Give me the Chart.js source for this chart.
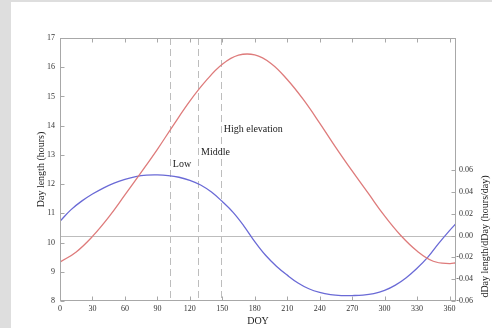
<!DOCTYPE html>
<html>
<head>
<meta charset="utf-8">
<script src="https://cdn.jsdelivr.net/npm/chart.js@4/dist/chart.umd.min.js"></script>
<style>
  html, body { margin: 0; padding: 0; background: #dedede; width: 492px; height: 328px; overflow: hidden; }
  #wrap { position: absolute; left: 11px; top: 2px; width: 481px; height: 326px; background: #ffffff; }
  canvas { display: block; }
</style>
</head>
<body>
<div id="wrap"><canvas id="c" width="481" height="326"></canvas></div>
<script>
// ---- data ----
const doyRed = [0,15,30,45,60,75,90,105,120,135,150,165,180,195,210,225,240,255,270,285,300,315,330,345,360,366];
const dayLength = [9.33,9.68,10.21,10.87,11.63,12.40,13.19,14.03,14.84,15.54,16.10,16.41,16.42,16.13,15.58,14.89,14.09,13.25,12.45,11.68,10.91,10.24,9.71,9.36,9.28,9.31];

const doyRate = [0,10,20,30,40,50,60,70,80,90,100,110,120,130,140,150,160,170,180,190,200,210,220,230,240,250,260,270,280,290,300,310,320,330,340,350,360,366];
const rate = [0.0131,0.0235,0.0315,0.0380,0.0435,0.0480,0.0515,0.0540,0.0553,0.0555,0.0549,0.0534,0.0506,0.0463,0.0398,0.0311,0.0212,0.0087,-0.0056,-0.0181,-0.0281,-0.0363,-0.0435,-0.0488,-0.0522,-0.0542,-0.0550,-0.0550,-0.0546,-0.0532,-0.0503,-0.0455,-0.0387,-0.0300,-0.0198,-0.0072,0.0045,0.0110];

const elevationDays = [102,128,149];
const elevationLabels = ['Low','Middle','High elevation'];
const labelHours = [12.69,13.09,13.88];

const doyTicks = [0,30,60,90,120,150,180,210,240,270,300,330,360];
const hourTicks = [8,9,10,11,12,13,14,15,16,17];
const rateTicks = [-0.06,-0.04,-0.02,0,0.02,0.04,0.06];

const xTitle = 'DOY';
const yTitle = 'Day length (hours)';
const y1Title = 'dDay length/dDay (hours/day)';

// ---- chart ----
const SERIF = '"Liberation Serif", "DejaVu Serif", serif';
Chart.defaults.font.family = SERIF;

function toXY(xs, ys) { return xs.map((v, i) => ({ x: v, y: ys[i] })); }

const decor = {
  id: 'decor',
  beforeDatasetsDraw(chart) {
    const { ctx, chartArea: a, scales: { x, y1 } } = chart;
    ctx.save();
    ctx.strokeStyle = '#bdbdbd';
    ctx.lineWidth = 1;
    const yz = Math.round(y1.getPixelForValue(0)) + 0.5;
    ctx.beginPath(); ctx.moveTo(a.left, yz); ctx.lineTo(a.right, yz); ctx.stroke();
    ctx.setLineDash([7, 4]);
    elevationDays.forEach(d => {
      const px = Math.round(x.getPixelForValue(d)) + 0.5;
      ctx.beginPath(); ctx.moveTo(px, a.top); ctx.lineTo(px, a.bottom); ctx.stroke();
    });
    ctx.restore();
  },
  afterDraw(chart) {
    const { ctx, chartArea: a, scales: { x, y, y1 } } = chart;
    ctx.save();
    ctx.strokeStyle = '#a8a8a8';
    ctx.lineWidth = 1;
    const L = Math.round(a.left) + 0.5, R = Math.round(a.right) - 0.5;
    const T = Math.round(a.top) + 0.5, B = Math.round(a.bottom) - 0.5;
    ctx.strokeRect(L, T, R - L, B - T);
    const tk = 4;
    ctx.beginPath();
    doyTicks.forEach(v => {
      const px = Math.round(x.getPixelForValue(v)) + 0.5;
      ctx.moveTo(px, B); ctx.lineTo(px, B - tk);
      ctx.moveTo(px, T); ctx.lineTo(px, T + tk);
    });
    hourTicks.forEach(v => {
      const py = Math.round(y.getPixelForValue(v)) + 0.5;
      ctx.moveTo(L, py); ctx.lineTo(L + tk, py);
    });
    rateTicks.forEach(v => {
      const py = Math.round(y1.getPixelForValue(v)) + 0.5;
      ctx.moveTo(R, py); ctx.lineTo(R - tk, py);
    });
    ctx.stroke();

    // right-axis tick labels (right aligned)
    ctx.fillStyle = '#333';
    ctx.font = '8px ' + SERIF;
    ctx.textBaseline = 'middle';
    ctx.textAlign = 'right';
    rateTicks.forEach(v => {
      ctx.fillText(v.toFixed(2), a.right + 17, y1.getPixelForValue(v));
    });

    // annotations
    ctx.fillStyle = '#222';
    ctx.font = '10px ' + SERIF;
    ctx.textAlign = 'left';
    elevationLabels.forEach((t, i) => {
      ctx.fillText(t, x.getPixelForValue(elevationDays[i]) + 2.5, y.getPixelForValue(labelHours[i]));
    });

    // axis titles
    ctx.textAlign = 'center';
    ctx.fillText(xTitle, (a.left + a.right) / 2, a.bottom + 20);
    ctx.save();
    ctx.translate(30, (a.top + a.bottom) / 2);
    ctx.rotate(-Math.PI / 2);
    ctx.fillText(yTitle, 0, 0);
    ctx.restore();
    ctx.save();
    ctx.translate(a.right + 29, y1.getPixelForValue(0) + 1);
    ctx.rotate(-Math.PI / 2);
    ctx.fillText(y1Title, 0, 0);
    ctx.restore();
    ctx.restore();
  }
};

new Chart(document.getElementById('c'), {
  type: 'line',
  data: {
    datasets: [
      { label: 'Day length', data: toXY(doyRed, dayLength), yAxisID: 'y',
        borderColor: '#de7b7b', borderWidth: 1.3, pointRadius: 0, tension: 0.4, fill: false },
      { label: 'dDay length/dDay', data: toXY(doyRate, rate), yAxisID: 'y1',
        borderColor: '#6a6ad6', borderWidth: 1.3, pointRadius: 0, tension: 0.4, fill: false }
    ]
  },
  options: {
    responsive: false,
    animation: false,
    events: [],
    layout: { padding: { top: 36, left: 0, right: 0, bottom: 0 } },
    plugins: { legend: { display: false }, tooltip: { enabled: false }, title: { display: false } },
    scales: {
      x: {
        type: 'linear', position: 'bottom', min: 0, max: 366,
        afterBuildTicks: s => { s.ticks = doyTicks.map(v => ({ value: v })); },
        afterFit: s => { s.height = 27; },
        ticks: { font: { size: 8 }, color: '#333', padding: 3, maxRotation: 0, autoSkip: false },
        grid: { display: false, drawTicks: false },
        border: { display: false }
      },
      y: {
        type: 'linear', position: 'left', min: 8, max: 17,
        afterBuildTicks: s => { s.ticks = hourTicks.map(v => ({ value: v })); },
        afterFit: s => { s.width = 49; },
        ticks: { font: { size: 8 }, color: '#333', padding: 5, autoSkip: false },
        grid: { display: false, drawTicks: false },
        border: { display: false }
      },
      y1: {
        type: 'linear', position: 'right', min: -0.06, max: 0.181,
        afterBuildTicks: s => { s.ticks = rateTicks.map(v => ({ value: v })); },
        afterFit: s => { s.width = 36; },
        ticks: { display: false },
        grid: { display: false, drawTicks: false },
        border: { display: false }
      }
    }
  },
  plugins: [decor]
});
</script>
</body>
</html>
